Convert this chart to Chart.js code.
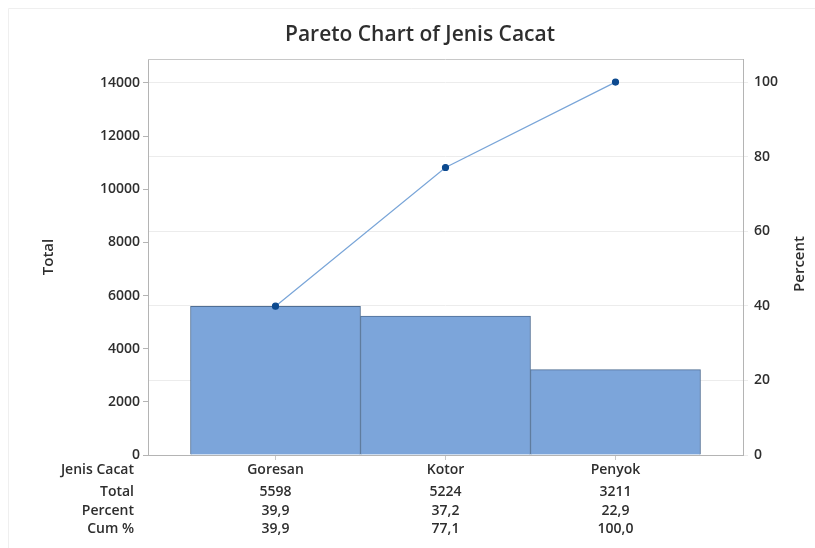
<!DOCTYPE html>
<html>
<head>
<meta charset="utf-8">
<script src="https://cdn.jsdelivr.net/npm/chart.js@4"></script>
<style>
  html, body { margin: 0; padding: 0; background: #fff; }
  #wrap { width: 815px; height: 548px; }
</style>
</head>
<body>
<div id="wrap"><canvas id="pareto" width="815" height="548"></canvas></div>
<script>
// data for the pareto chart
const categories = ['Goresan', 'Kotor', 'Penyok'];
const totals = [5598, 5224, 3211];
const percents = ['39,9', '37,2', '22,9'];
const cumPercents = [39.9, 77.1, 100.0];
const cumLabels = ['39,9', '77,1', '100,0'];
const rowLabels = ['Jenis Cacat', 'Total', 'Percent', 'Cum %'];
const totalTicks = [0, 2000, 4000, 6000, 8000, 10000, 12000, 14000];
const percentTicks = [0, 20, 40, 60, 80, 100];

const grandTotal = totals.reduce((a, b) => a + b, 0);
const leftMax = 14903;
const rightMax = leftMax / grandTotal * 100;

const textColor = '#2e2e2e';
const tickFont = { family: 'Open Sans', size: 14, weight: '600' };

// plugin: outer frame, title, plot frame, right axis title, table under chart
const paretoExtras = {
  id: 'paretoExtras',
  beforeDraw(chart) {
    const ctx = chart.ctx;
    ctx.save();
    ctx.strokeStyle = '#efefef';
    ctx.lineWidth = 1;
    ctx.beginPath();
    ctx.moveTo(8.5, chart.height);
    ctx.lineTo(8.5, 8.5);
    ctx.lineTo(chart.width, 8.5);
    ctx.stroke();
    ctx.restore();
  },
  afterDraw(chart) {
    const ctx = chart.ctx;
    const area = chart.chartArea;
    const xs = chart.scales.x;
    ctx.save();
    ctx.strokeStyle = '#c8c8c8';
    ctx.lineWidth = 1;
    ctx.beginPath();
    ctx.moveTo(area.left, area.top + 0.5);
    ctx.lineTo(area.right, area.top + 0.5);
    ctx.stroke();

    ctx.fillStyle = textColor;
    ctx.textAlign = 'center';
    ctx.textBaseline = 'middle';
    ctx.font = '600 21px "Open Sans"';
    ctx.fillText('Pareto Chart of Jenis Cacat', 420, 35);

    ctx.font = '600 15px "Open Sans"';
    ctx.translate(800, (area.top + area.bottom) / 2 + 7);
    ctx.rotate(-Math.PI / 2);
    ctx.fillText('Percent', 0, 0);
    ctx.restore();

    // table rows
    const rowsY = [15, 37, 56, 74];
    const rows = [categories, totals.map(String), percents, cumLabels];
    ctx.save();
    ctx.fillStyle = textColor;
    ctx.font = '600 14px "Open Sans"';
    ctx.textBaseline = 'middle';
    rows.forEach((row, r) => {
      const y = area.bottom + rowsY[r];
      ctx.textAlign = 'right';
      ctx.fillText(rowLabels[r], 134, y);
      ctx.textAlign = 'center';
      row.forEach((txt, i) => {
        ctx.fillText(txt, xs.getPixelForValue(i), y);
      });
    });
    ctx.restore();
  }
};

new Chart(document.getElementById('pareto').getContext('2d'), {
  data: {
    datasets: [
      {
        type: 'line',
        label: 'Cum %',
        data: cumPercents.map((v, i) => ({ x: i, y: v })),
        yAxisID: 'y1',
        borderColor: '#79a5d8',
        borderWidth: 1.2,
        pointBackgroundColor: '#0d4a8f',
        pointBorderColor: '#0d4a8f',
        pointRadius: 3,
        tension: 0,
        order: 1
      },
      {
        type: 'bar',
        label: 'Total',
        data: totals.map((v, i) => ({ x: i, y: v })),
        yAxisID: 'y',
        backgroundColor: '#7ca5da',
        borderColor: '#4f6e94',
        borderWidth: 1,
        barPercentage: 1,
        categoryPercentage: 1,
        order: 2
      }
    ]
  },
  options: {
    responsive: false,
    animation: false,
    layout: { padding: { top: 59 } },
    plugins: {
      legend: { display: false },
      tooltip: { enabled: false },
      title: { display: false }
    },
    scales: {
      x: {
        type: 'linear',
        min: -0.75,
        max: 2.75,
        offset: false,
        afterBuildTicks: (s) => { s.ticks = categories.map((c, i) => ({ value: i })); },
        afterFit: (s) => { s.height = 93; },
        ticks: { display: false },
        grid: { offset: false, drawOnChartArea: false, drawTicks: true, tickLength: 5, color: '#c8c8c8' },
        border: { color: '#b4b4b4' }
      },
      y: {
        position: 'left',
        min: 0,
        max: leftMax,
        afterBuildTicks: (s) => { s.ticks = totalTicks.map(v => ({ value: v })); },
        afterFit: (s) => { s.width = 148; },
        ticks: { color: textColor, font: tickFont, padding: 3, callback: (v) => String(v) },
        grid: { drawOnChartArea: false, drawTicks: true, tickLength: 5, color: '#b4b4b4' },
        border: { color: '#b4b4b4' },
        title: {
          display: true,
          text: 'Total',
          color: textColor,
          font: { family: 'Open Sans', size: 15, weight: '600' },
          padding: { top: 40, bottom: 0 }
        }
      },
      y1: {
        position: 'right',
        min: 0,
        max: rightMax,
        afterBuildTicks: (s) => { s.ticks = percentTicks.map(v => ({ value: v })); },
        afterFit: (s) => { s.width = 72; },
        ticks: { color: textColor, font: tickFont, padding: 6, callback: (v) => String(v) },
        grid: { color: '#ececec', drawTicks: true, tickLength: 5 },
        border: { color: '#b4b4b4' }
      }
    }
  },
  plugins: [paretoExtras]
});
</script>
</body>
</html>
